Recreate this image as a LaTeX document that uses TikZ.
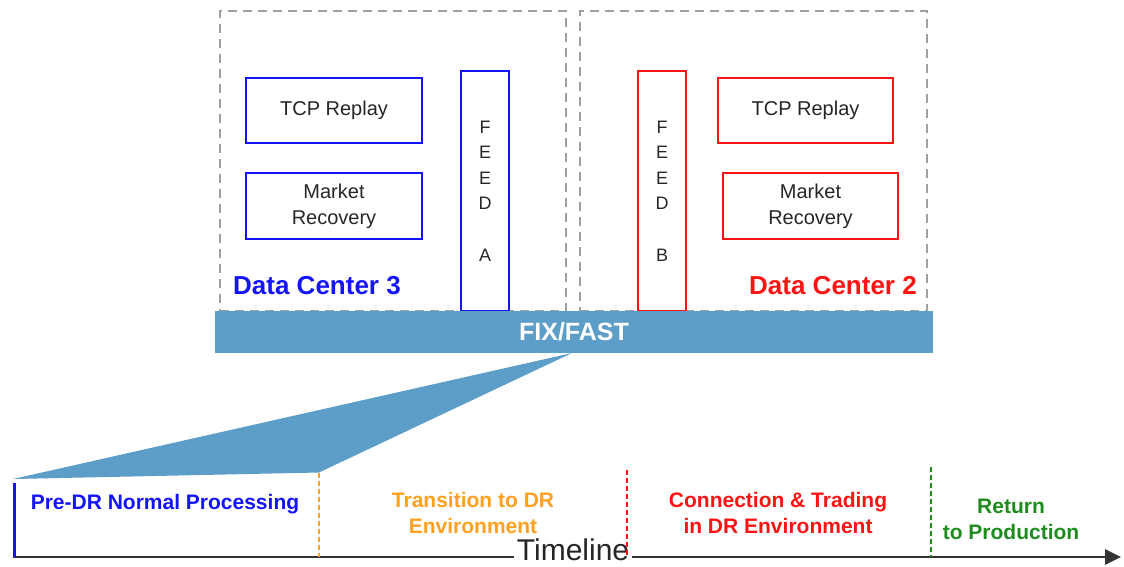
\documentclass[tikz,border=0pt]{standalone}
\usepackage{fontspec}
\setmainfont{Liberation Sans}
\usetikzlibrary{arrows.meta}
\definecolor{barblue}{RGB}{92,158,200}
\definecolor{dcblue}{RGB}{20,20,250}
\definecolor{dcred}{RGB}{250,20,20}
\definecolor{orng}{RGB}{255,160,30}
\definecolor{grn}{RGB}{30,140,30}
\definecolor{dashgray}{RGB}{160,160,160}
\begin{document}
\begin{tikzpicture}[x=1pt,y=-1pt,
  dcbox/.style={draw=dashgray, line width=1.6pt, dash pattern=on 9pt off 6pt, minimum width=346pt, minimum height=300pt, inner sep=0pt},
  compbox/.style={draw=#1, line width=2.6pt, inner sep=0pt, align=center, text=black!85, font=\fontsize{20}{26}\selectfont},
  feedbox/.style={draw=#1, line width=2.6pt, inner sep=0pt, align=center, text=black!85, minimum width=48pt, minimum height=240pt, font=\fontsize{18}{25.6}\selectfont},
  dclabel/.style={text=#1, font=\fontsize{26}{30}\selectfont\bfseries, inner sep=0pt},
  phaselabel/.style={text=#1, font=\fontsize{21}{26}\selectfont\bfseries, align=center, inner sep=0pt},
  phasesep/.style={draw=#1, line width=2pt, dash pattern=on 5pt off 3pt}
]
\useasboundingbox (0,0) rectangle (1124,566);

% data centre frames
\node[dcbox] (dc3) at (393,161) {};
\node[dcbox, minimum width=347pt] (dc2) at (753.5,161) {};

% Data Center 3
\node[compbox=dcblue, minimum width=176pt, minimum height=65pt] (tcp3) at (334,110.5) {TCP Replay};
\node[compbox=dcblue, minimum width=176pt, minimum height=66pt] (mr3) at (334,206) {Market\\Recovery};
\node[feedbox=dcblue] (feeda) at (485,191) {F\\E\\E\\D\\[25.6pt]A};
\node[dclabel=dcblue] (dc3lab) at (317,286) {Data Center 3};

% Data Center 2
\node[feedbox=dcred] (feedb) at (662,191) {F\\E\\E\\D\\[25.6pt]B};
\node[compbox=dcred, minimum width=175pt, minimum height=65pt] (tcp2) at (805.5,110.5) {TCP Replay};
\node[compbox=dcred, minimum width=175pt, minimum height=66pt] (mr2) at (810.5,206) {Market\\Recovery};
\node[dclabel=dcred] (dc2lab) at (833,286) {Data Center 2};

% FIX/FAST bar
\node[fill=barblue, minimum width=718pt, minimum height=42pt, inner sep=0pt,
      text=white, font=\fontsize{25}{30}\selectfont\bfseries] (bar) at (574,332) {FIX/FAST};

% funnel
\coordinate (ftop) at (572,353);
\coordinate (fleft) at (13,479);
\coordinate (fright) at (319,472.5);
\fill[barblue] (ftop) -- (fleft) -- (fright) -- cycle;

% timeline
\coordinate (tstart) at (13,557);
\coordinate (tend) at (1121,557);
\draw[line width=2.8pt, black!80, -{Triangle[length=16pt,width=15pt]}] (tstart) -- (tend);
\node[fill=white, inner xsep=3pt, inner ysep=0pt, text=black!85, font=\fontsize{30}{32}\selectfont] (tl) at (573,550) {Timeline};

% phase separators
\coordinate (s0a) at (14.5,483); \coordinate (s0b) at (14.5,557);
\draw[dcblue, line width=2.6pt] (s0a) -- (s0b);
\coordinate (s1a) at (319,473); \coordinate (s1b) at (319,557);
\draw[phasesep=orng] (s1a) -- (s1b);
\coordinate (s2a) at (627,470); \coordinate (s2b) at (627,557);
\draw[phasesep=dcred] (s2a) -- (s2b);
\coordinate (s3a) at (931,467); \coordinate (s3b) at (931,557);
\draw[phasesep=grn] (s3a) -- (s3b);

% phase labels
\node[phaselabel=dcblue] (p1) at (165,504) {Pre-DR Normal Processing};
\node[phaselabel=orng] (p2) at (473,513) {Transition to DR\\Environment};
\node[phaselabel=dcred] (p3) at (778,513) {Connection \& Trading\\in DR Environment};
\node[phaselabel=grn] (p4) at (1011,519) {Return\\to Production};
\end{tikzpicture}
\end{document}
